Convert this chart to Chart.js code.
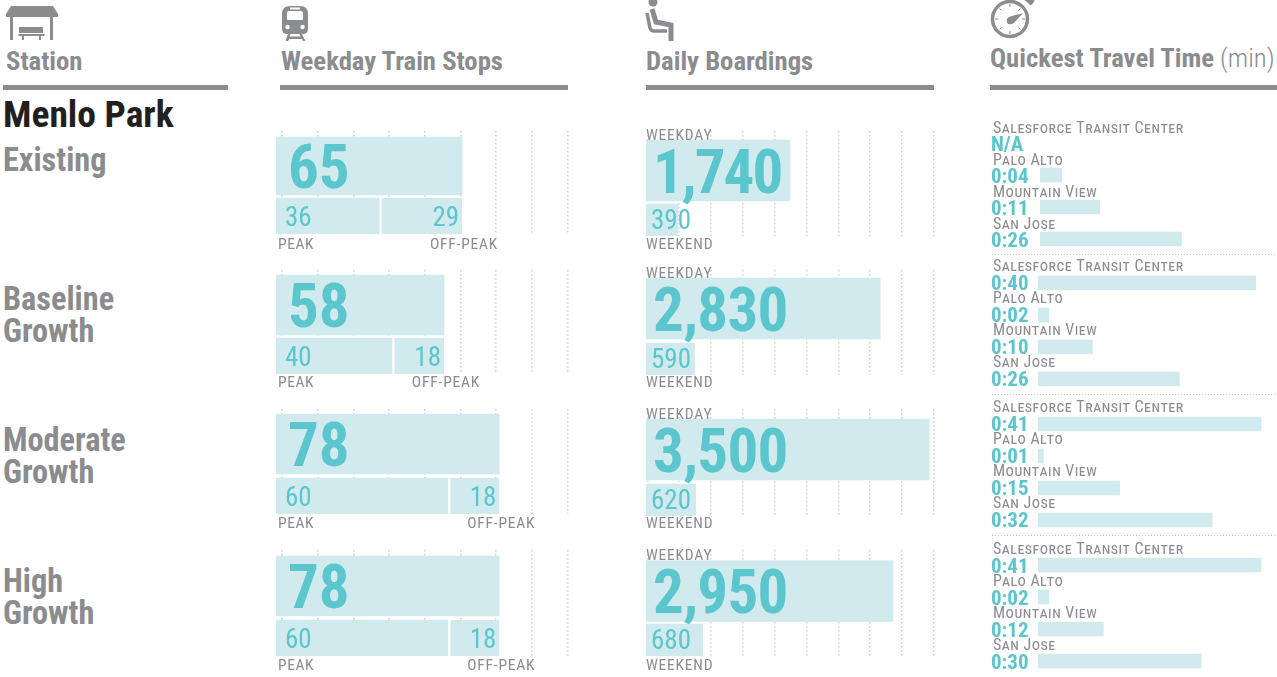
<!DOCTYPE html>
<html>
<head>
<meta charset="utf-8">
<title>Menlo Park</title>
<script src="https://cdn.jsdelivr.net/npm/chart.js@4"></script>
<style>
  html, body { margin: 0; padding: 0; background: #fff; overflow: hidden; }
  #page { position: relative; width: 1277px; height: 677px; font-family: Roboto, sans-serif; }
  canvas { position: absolute; }
  .txt { position: absolute; white-space: pre; font-weight: 700; font-stretch: 75%; color: #8a8c8f; line-height: 1; }
  .rule { position: absolute; top: 85px; height: 5px; background: #8a8c8f; }
  svg { position: absolute; left: 0; top: 0; }
</style>
</head>
<body>
<div id="page">
  <svg width="1277" height="50" fill="#8a8c8f">
    <path d="M11 6h42l5 8v3H6v-3z"/>
    <rect x="10" y="17" width="3" height="23"/><rect x="50" y="17" width="3" height="23"/>
    <rect x="19" y="27" width="24" height="6"/><rect x="18.500" y="34" width="26" height="2"/>
    <rect x="22" y="36" width="2" height="4"/><rect x="39" y="36" width="2" height="4"/>
    <path fill-rule="evenodd" d="M290 6h10q8 0 8 8v15q0 5-5 5h-16q-5 0-5-5V14q0-8 8-8zM289 11q-2 0-2 2v6q0 1 1 1h14q1 0 1-1v-6q0-2-2-2z"/>
    <rect x="290" y="7.500" width="10" height="2" fill="#fff"/>
    <circle cx="287.500" cy="27" r="2.200" fill="#fff"/><circle cx="302.500" cy="27" r="2.200" fill="#fff"/>
    <path d="M288 34h2.500l-1 2.500h11l-1-2.500h2.500l3.500 7h-2.500l-1-2h-13l-1 2h-2.500z"/>
    <circle cx="653" cy="2" r="4.500"/>
    <path d="M652 9l4 13 15 3v16" fill="none" stroke="#8a8c8f" stroke-width="5"/>
    <path d="M647 13l3 15q1 3 4 3h13" fill="none" stroke="#8a8c8f" stroke-width="3.500"/>
    <circle cx="1010" cy="19" r="17.500" fill="none" stroke="#8a8c8f" stroke-width="3.500"/>
    <rect x="1025" y="-3" width="9" height="6" transform="rotate(40 1029 0)"/>
    <path d="M1008 24q-4-6 4-8l11-3-9 10q-3 2-6 1z"/>
    <path d="M1010 4v3M1010 31v3M995 19h3M1022 19h3M999.500 8.500l2 2M1018.500 27.500l2 2M999.500 29.500l2-2M1018.500 10.500l2-2" stroke="#8a8c8f" stroke-width="1"/>
  </svg>
  <div class="rule" style="left:3px;width:225px"></div>
  <div class="rule" style="left:280px;width:288px"></div>
  <div class="rule" style="left:646px;width:288px"></div>
  <div class="rule" style="left:990px;width:287px"></div>
</div>
<script>
const scenarios = ['Existing', 'Baseline\nGrowth', 'Moderate\nGrowth', 'High\nGrowth'];
const headers = ['Station', 'Weekday Train Stops', 'Daily Boardings', 'Quickest Travel Time'];

const totalStops = [65, 58, 78, 78];
const peakStops = [36, 40, 60, 60];
const offPeakStops = [29, 18, 18, 18];

const weekdayBoardings = [1740, 2830, 3500, 2950];
const weekendBoardings = [390, 590, 620, 680];

const places = ['Salesforce Transit Center', 'Palo Alto', 'Mountain View', 'San Jose'];
const travelLabels = [
    ['N/A', '0:04', '0:11', '0:26'],
    ['0:40', '0:02', '0:10', '0:26'],
    ['0:41', '0:01', '0:15', '0:32'],
    ['0:41', '0:02', '0:12', '0:30']
];
const travelMinutes = [
    [null, 4, 11, 26],
    [40, 2, 10, 26],
    [41, 1, 15, 32],
    [41, 2, 12, 30]
];

const stopGrid = [0, 1, 2, 3, 4, 5, 6, 7, 8];
const boardingGrid = [0, 1, 2, 3, 4, 5, 6, 7, 8, 9];

// layout of the rows
const gridTop = [131, 270, 409, 550];
const stopCentres = [[166, 216], [305, 356], [444, 496], [586, 638]];
const stopThick = [58, 60, 60, 60];
const stopAxisMax = [102, 100.8, 102, 102];
const boardCentres = [[170.5, 219], [308.5, 358], [449.5, 499], [591, 639]];
const boardAxisMax = [3480, 3480, 3560, 3440];
const boardSpacing = ['-2px', '-0.7px', '-0.7px', '-0.7px'];
const captionBase = [249, 387, 528, 670];
const travelTop = [127, 267, 408, 549];
const travelPad = [55, 53, 53, 53];
const travelNameShift = [-10, -12, -12, -11];
const travelValueShift = [8, 7, 7, 8];

const BAR = '#d0eaed';
const TEAL = '#5bc6ce';
const GREY = '#8a8c8f';
const page = document.getElementById('page');

function addText(str, left, top, size, color, weight) {
    const d = document.createElement('div');
    d.className = 'txt';
    d.textContent = str;
    d.style.left = left + 'px';
    d.style.top = top + 'px';
    d.style.fontSize = size + 'px';
    if (color) d.style.color = color;
    if (weight) d.style.fontWeight = weight;
    page.appendChild(d);
    return d;
}

function put(ctx, str, x, y, font, color, align, spacing) {
    ctx.save();
    ctx.font = font + ' Roboto';
    ctx.fontStretch = 'condensed';
    ctx.letterSpacing = spacing || '0px';
    ctx.fillStyle = color;
    ctx.textAlign = align || 'left';
    ctx.textBaseline = 'alphabetic';
    ctx.fillText(str, x, y);
    ctx.restore();
}

function addChart(left, top, width, height, config) {
    const c = document.createElement('canvas');
    c.width = width;
    c.height = height;
    c.style.left = left + 'px';
    c.style.top = top + 'px';
    page.appendChild(c);
    return new Chart(c, config);
}

function gridAxis(min, max, ticks) {
    return {
        axis: 'x',
        type: 'linear',
        position: 'bottom',
        bounds: 'data',
        min: min,
        max: max,
        afterBuildTicks: s => { s.ticks = ticks.map(v => ({ value: v })); },
        afterFit: s => { s.height = 0; },
        ticks: { display: false, autoSkip: false },
        grid: { color: '#cfcfcb', lineWidth: 1.5, drawTicks: false },
        border: { display: false, dash: [1.5, 2.5] }
    };
}

// two rows (0 = total, 1 = split) placed by a linear y scale
function rowAxis(top, bottom, c) {
    const gap = c[1] - c[0];
    return {
        type: 'linear', display: false, stacked: true, reverse: true, offset: false, bounds: 'data',
        min: (top - c[0]) / gap, max: (bottom - c[0]) / gap
    };
}

const baseOptions = {
    indexAxis: 'y',
    responsive: false,
    animation: false,
    plugins: { legend: { display: false }, tooltip: { enabled: false } }
};

// Header text
addText(headers[0], 6, 48, 26.7);
addText(headers[1], 281, 48, 26.7);
addText(headers[2], 646, 48, 26.7);
addText(headers[3], 990, 45, 26.7);
addText('(min)', 1220, 45, 26.7, GREY, 300);
addText('Menlo Park', 3, 96, 37.5, '#231f20');
const nameTops = [[144], [283, 315], [424, 456], [565, 597]];
scenarios.forEach((s, i) => {
    s.split('\n').forEach((part, j) => addText(part, 3, nameTops[i][j], 32.3));
});

scenarios.forEach((s, i) => {
    // Weekday train stops
    const sc = stopCentres[i];
    const sBottom = sc[1] + 18;
    addChart(270, gridTop[i] - 8, 300, sBottom - gridTop[i] + 8 + 24, {
        type: 'bar',
        data: {
            datasets: [
                { data: [{ x: totalStops[i], y: 0 }], backgroundColor: BAR, barThickness: stopThick[i] },
                { data: [{ x: peakStops[i], y: 1 }], backgroundColor: BAR, barThickness: 36 },
                { data: [{ x: offPeakStops[i], y: 1 }], backgroundColor: BAR, barThickness: 36, borderColor: '#fff', borderWidth: { left: 3 }, borderSkipped: false }
            ]
        },
        options: {
            ...baseOptions,
            layout: { padding: { left: 6, right: 2, top: 8, bottom: 24 } },
            scales: {
                x: { type: 'linear', display: false, stacked: true, min: 0, max: stopAxisMax[i] },
                g: gridAxis(-0.168, 8.01, stopGrid),
                y: rowAxis(gridTop[i], sBottom, sc)
            }
        },
        plugins: [{
            id: 'stopLabels',
            afterDatasetsDraw(chart) {
                const ctx = chart.ctx, x = chart.scales.x, y = chart.scales.y;
                const x0 = x.getPixelForValue(0), end = x.getPixelForValue(totalStops[i]);
                const capY = captionBase[i] - (gridTop[i] - 8);
                put(ctx, String(totalStops[i]), x0 + 12, y.getPixelForValue(0) + 22, '700 61px', TEAL);
                put(ctx, String(peakStops[i]), x0 + 9, y.getPixelForValue(1) + 10, '400 27px', TEAL);
                put(ctx, String(offPeakStops[i]), end - 3, y.getPixelForValue(1) + 10, '400 27px', TEAL, 'right');
                put(ctx, 'PEAK', x0 + 2, capY, '400 15.5px', GREY, 'left', '0.6px');
                put(ctx, 'OFF-PEAK', end + 36, capY, '400 15.5px', GREY, 'right', '0.8px');
            }
        }]
    });

    // Daily boardings
    const bc = boardCentres[i];
    const bBottom = bc[1] + 17;
    addChart(640, gridTop[i] - 8, 300, bBottom - gridTop[i] + 8 + 24, {
        type: 'bar',
        data: {
            datasets: [
                { data: [{ x: weekdayBoardings[i], y: 0 }], backgroundColor: BAR, barThickness: 61 },
                { data: [{ x: weekendBoardings[i], y: 1 }], backgroundColor: BAR, barThickness: 34, borderColor: '#fff', borderWidth: { top: 2 }, borderSkipped: false }
            ]
        },
        options: {
            ...baseOptions,
            layout: { padding: { left: 6, right: 6, top: 8, bottom: 24 } },
            scales: {
                x: { type: 'linear', display: false, stacked: true, min: 0, max: boardAxisMax[i] },
                g: gridAxis(-0.044, 9.01, boardingGrid),
                y: rowAxis(gridTop[i], bBottom, bc)
            }
        },
        plugins: [{
            id: 'boardLabels',
            afterDatasetsDraw(chart) {
                const ctx = chart.ctx, x = chart.scales.x, y = chart.scales.y;
                const x0 = x.getPixelForValue(0);
                const capY = captionBase[i] - (gridTop[i] - 8);
                put(ctx, weekdayBoardings[i].toLocaleString('en-US'), x0 + 7, y.getPixelForValue(0) + 22, '700 61px', TEAL, 'left', boardSpacing[i]);
                put(ctx, String(weekendBoardings[i]), x0 + 5, y.getPixelForValue(1) + 10, '400 27px', TEAL);
                put(ctx, 'WEEKDAY', x0, y.getPixelForValue(0) - 31, '400 15.5px', GREY, 'left', '0.8px');
                put(ctx, 'WEEKEND', x0, capY, '400 15.5px', GREY, 'left', '0.8px');
            }
        }]
    });

    // Quickest travel time
    addChart(985, travelTop[i] - 8, 292, 138, {
        type: 'bar',
        data: {
            labels: places,
            datasets: [{ data: travelMinutes[i], backgroundColor: BAR, barThickness: 14 }]
        },
        options: {
            ...baseOptions,
            layout: { padding: { left: travelPad[i], right: 0, top: 8, bottom: 2 } },
            scales: {
                x: { type: 'linear', display: false, min: 0, max: (292 - travelPad[i]) / 5.44 },
                y: { type: 'category', display: false }
            }
        },
        plugins: [{
            id: 'travelLabels',
            afterDatasetsDraw(chart) {
                const ctx = chart.ctx, y = chart.scales.y;
                places.forEach((p, k) => {
                    const cy = y.getPixelForValue(k);
                    put(ctx, p, 8, cy + travelNameShift[i], 'small-caps 400 16px', GREY, 'left', '0.5px');
                    put(ctx, travelLabels[i][k], 6, cy + travelValueShift[i], '700 21px', TEAL);
                });
                if (i < 3) {
                    ctx.save();
                    ctx.strokeStyle = '#c6c6c2';
                    ctx.setLineDash([1, 2]);
                    ctx.beginPath();
                    ctx.moveTo(7, chart.chartArea.bottom - 0.5);
                    ctx.lineTo(292, chart.chartArea.bottom - 0.5);
                    ctx.stroke();
                    ctx.restore();
                }
            }
        }]
    });
});
</script>
</body>
</html>
